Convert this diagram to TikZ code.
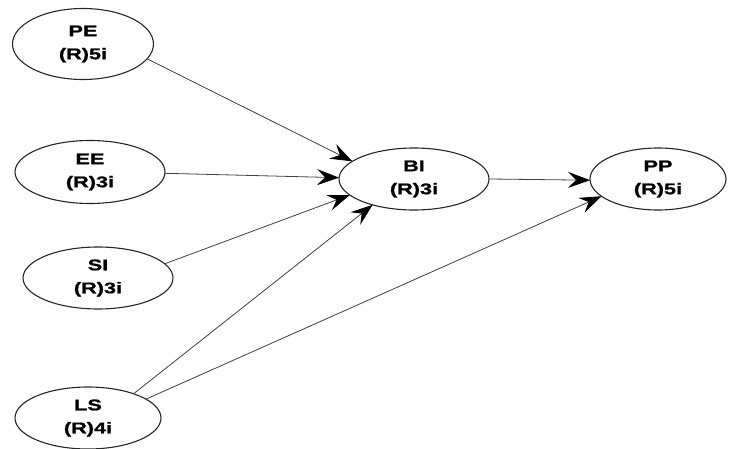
\documentclass[tikz,border=0pt]{standalone}
\usepackage{fontspec}
\setmainfont{Liberation Sans}
\newfontfamily\lblfont[FakeStretch=1.4,FakeBold=1.2]{Liberation Sans}
\usetikzlibrary{shapes.geometric,arrows.meta}
\begin{document}
\begin{tikzpicture}[x=1pt,y=-1pt,
  lv/.style={ellipse, draw=black!85, line width=1.1pt, inner sep=0pt, outer sep=0pt,
    align=center, font=\lblfont\bfseries\fontsize{15.5}{23}\selectfont, text=black},
  path/.style={draw=black!75, line width=0.8pt, -{Stealth[length=22pt,width=16pt,inset=8pt,color=black]}}]
\useasboundingbox (0,0) rectangle (729,449);
\node[lv, minimum width=141pt, minimum height=71pt] (PE) at (83,44) {PE\\(R)5i};
\node[lv, minimum width=150pt, minimum height=63pt] (EE) at (90,172) {EE\\(R)3i};
\node[lv, minimum width=150pt, minimum height=62pt] (SI) at (98,278) {SI\\(R)3i};
\node[lv, minimum width=146pt, minimum height=62pt] (LS) at (88,418) {LS\\(R)4i};
\node[lv, minimum width=150pt, minimum height=62pt] (BI) at (414,179) {BI\\(R)3i};
\node[lv, minimum width=136pt, minimum height=62pt] (PP) at (658,179) {PP\\(R)5i};
\draw[path] (PE.-13) -- (BI.164);
\draw[path] (EE.-1) -- (BI.179);
\draw[path] (SI.12) -- (BI.194);
\draw[path] (LS.28) -- (BI.212);
\draw[path] (LS.18) -- (PP.197);
\draw[path] (BI.0) -- (PP.181);
\end{tikzpicture}
\end{document}
